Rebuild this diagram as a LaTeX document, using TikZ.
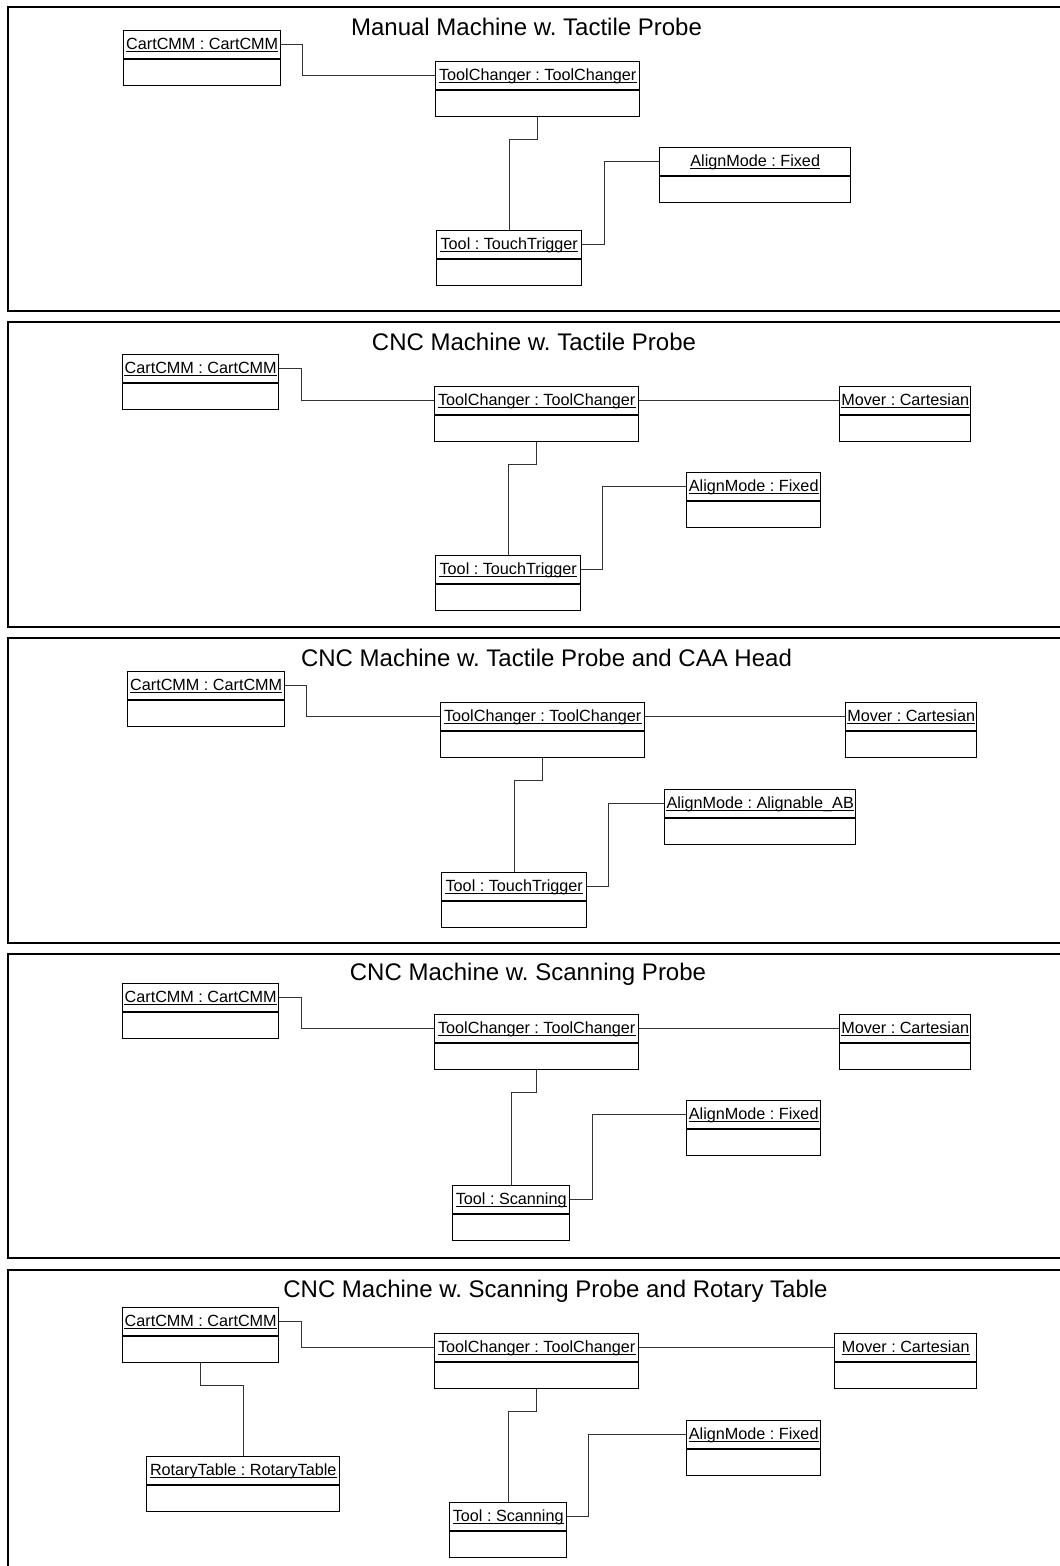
\documentclass[tikz,border=0pt]{standalone}
\usepackage{fontspec}
\setmainfont{Liberation Sans}
\frenchspacing
\tikzset{
  panel/.style={draw=black, line width=1.6pt},
  objbox/.style={draw=black, line width=1.4pt, rectangle, inner sep=0pt, anchor=north west, minimum height=55pt},
  objlabel/.style={inner sep=0pt, font=\fontsize{16.2}{18}\selectfont, anchor=base},
  conn/.style={draw=black!80, line width=1pt},
  paneltitle/.style={inner sep=0pt, font=\fontsize{24}{28}\selectfont, anchor=base}
}
% UML object: name, left x, top y, right x, label
\newcommand\umlobject[5]{%
  \node[objbox, minimum width={(#4)-(#2)}] (#1) at (#2,#3) {};
  \draw[line width=1.4pt] ([yshift=-29pt]#1.north west) -- ([yshift=-29pt]#1.north east);
  \node[objlabel] (#1-t) at ([yshift=-19pt]#1.north) {#5};
  \draw[line width=0.8pt] ([yshift=-2.8pt]#1-t.base west) -- ([yshift=-2.8pt]#1-t.base east);
}
% side connector: from right side of #1 to left side of #2 with a vertical jog
\newcommand\sidelink[3]{%
  \draw[conn] ([yshift=-14pt]#1.north east) -- ++(#3,0) |- ([yshift=-14pt]#2.north west);
}
% down connector: from bottom of #1 to top of #2 with a horizontal jog
\newcommand\downlink[2]{%
  \draw[conn] (#1.south) -- ++(0,22) -| (#2.north);
}
\begin{document}
\begin{tikzpicture}[x=1pt, y=-1pt]
\useasboundingbox (0,0) rectangle (1060,1566);
\clip (0,0) rectangle (1060,1566);

% frames
\draw[panel] (8,7) rectangle (1090,311);
\draw[panel] (8,322) rectangle (1090,627);
\draw[panel] (8,638) rectangle (1090,943);
\draw[panel] (8,954) rectangle (1090,1258);
\draw[panel] (8,1270) rectangle (1090,1600);

% frame 1
\node[paneltitle] (ttl1) at (526.5,35) {Manual Machine w. Tactile Probe};
\umlobject{cc1}{123}{30}{280}{CartCMM : CartCMM}
\umlobject{tc1}{435}{61}{639}{ToolChanger : ToolChanger}
\umlobject{tl1}{436}{230}{581}{Tool : TouchTrigger}
\umlobject{al1}{659}{147}{850}{AlignMode : Fixed}
\sidelink{cc1}{tc1}{21}
\downlink{tc1}{tl1}
\sidelink{tl1}{al1}{22}

% frame 2
\node[paneltitle] (ttl2) at (534,350) {CNC Machine w. Tactile Probe};
\umlobject{cc2}{122}{354}{278}{CartCMM : CartCMM}
\umlobject{tc2}{434}{386}{638}{ToolChanger : ToolChanger}
\umlobject{mv2}{839}{386}{970}{Mover : Cartesian}
\umlobject{tl2}{435}{555}{580}{Tool : TouchTrigger}
\umlobject{al2}{686}{472}{820}{AlignMode : Fixed}
\sidelink{cc2}{tc2}{22}
\draw[conn] ([yshift=-14pt]tc2.north east) -- ([yshift=-14pt]mv2.north west);
\downlink{tc2}{tl2}
\sidelink{tl2}{al2}{21}

% frame 3
\node[paneltitle] (ttl3) at (546.5,666) {CNC Machine w. Tactile Probe and CAA Head};
\umlobject{cc3}{127}{671}{284}{CartCMM : CartCMM}
\umlobject{tc3}{440}{702}{644}{ToolChanger : ToolChanger}
\umlobject{mv3}{845}{702}{976}{Mover : Cartesian}
\umlobject{tl3}{441}{872}{586}{Tool : TouchTrigger}
\umlobject{al3}{664}{789}{855}{AlignMode : Alignable\_AB}
\sidelink{cc3}{tc3}{21}
\draw[conn] ([yshift=-14pt]tc3.north east) -- ([yshift=-14pt]mv3.north west);
\downlink{tc3}{tl3}
\sidelink{tl3}{al3}{21}

% frame 4
\node[paneltitle] (ttl4) at (528,980) {CNC Machine w. Scanning Probe};
\umlobject{cc4}{122}{983}{278}{CartCMM : CartCMM}
\umlobject{tc4}{434}{1014}{638}{ToolChanger : ToolChanger}
\umlobject{mv4}{839}{1014}{970}{Mover : Cartesian}
\umlobject{tl4}{452}{1185}{569}{Tool : Scanning}
\umlobject{al4}{686}{1100}{820}{AlignMode : Fixed}
\sidelink{cc4}{tc4}{22}
\draw[conn] ([yshift=-14pt]tc4.north east) -- ([yshift=-14pt]mv4.north west);
\downlink{tc4}{tl4}
\sidelink{tl4}{al4}{22}

% frame 5
\node[paneltitle] (ttl5) at (555.5,1297) {CNC Machine w. Scanning Probe and Rotary Table};
\umlobject{cc5}{122}{1307}{278}{CartCMM : CartCMM}
\umlobject{tc5}{434}{1333}{638}{ToolChanger : ToolChanger}
\umlobject{mv5}{834}{1333}{976}{Mover : Cartesian}
\umlobject{rt5}{146}{1456}{339}{RotaryTable : RotaryTable}
\umlobject{tl5}{449}{1502}{566}{Tool : Scanning}
\umlobject{al5}{686}{1420}{820}{AlignMode : Fixed}
\sidelink{cc5}{tc5}{22}
\draw[conn] ([yshift=-14pt]tc5.north east) -- ([yshift=-14pt]mv5.north west);
\downlink{cc5}{rt5}
\downlink{tc5}{tl5}
\sidelink{tl5}{al5}{21}
\end{tikzpicture}
\end{document}
